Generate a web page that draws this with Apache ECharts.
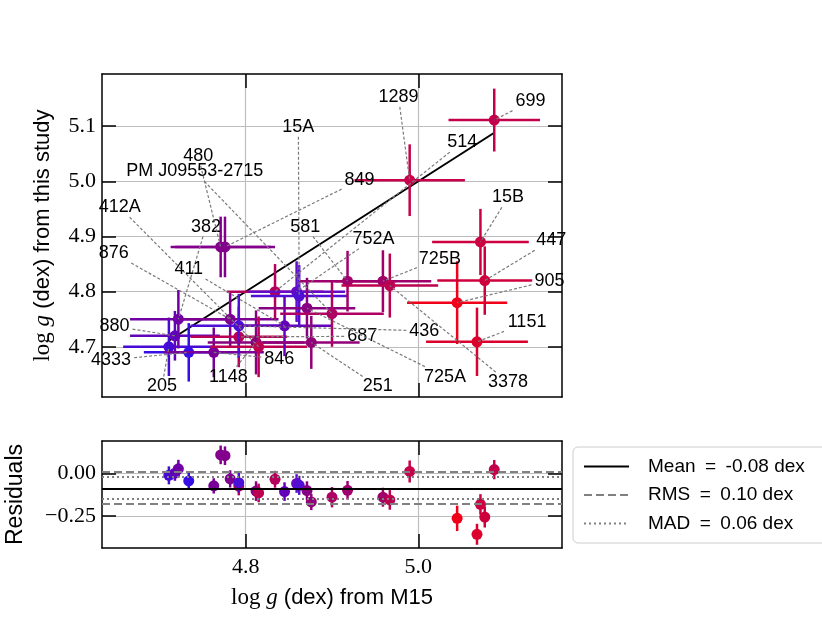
<!DOCTYPE html>
<html>
<head>
<meta charset="utf-8">
<script src="https://cdn.jsdelivr.net/npm/echarts@6/dist/echarts.min.js"></script>
<style>
  html, body { margin: 0; background: #fff; }
  #chart { width: 822px; height: 617px; }
</style>
</head>
<body>
<div id="chart"></div>
<script>
// stars, in the order they are plotted
const starNames = ['205', '880', '382', '4333', '846', '480', '849', '876', '687', '436',
  '1148', '412A', '514', '411', '752A', '15A', '725A', '251', 'PM J09553-2715', '581',
  '725B', '3378', '1289', '905', '1151', '15B', '447', '699'];
const loggM15 = [4.711, 4.718, 4.722, 4.734, 4.763, 4.771, 4.776, 4.782, 4.792, 4.792,
  4.812, 4.815, 4.834, 4.845, 4.859, 4.862, 4.871, 4.876, 4.900, 4.918,
  4.959, 4.967, 4.990, 5.045, 5.068, 5.072, 5.077, 5.088];
const loggThis = [4.700, 4.720, 4.750, 4.690, 4.690, 4.881, 4.881, 4.750, 4.718, 4.738,
  4.708, 4.700, 4.800, 4.738, 4.800, 4.792, 4.770, 4.708, 4.760, 4.819,
  4.819, 4.811, 5.002, 4.780, 4.709, 4.890, 4.820, 5.111];
const errM15 = [0.053, 0.052, 0.056, 0.052, 0.058, 0.058, 0.058, 0.056, 0.056, 0.056,
  0.056, 0.056, 0.056, 0.056, 0.056, 0.056, 0.056, 0.056, 0.060, 0.056,
  0.056, 0.056, 0.064, 0.058, 0.059, 0.056, 0.055, 0.053];
const errThis = [0.053, 0.045, 0.053, 0.053, 0.045, 0.055, 0.055, 0.051, 0.055, 0.058,
  0.058, 0.055, 0.050, 0.055, 0.055, 0.056, 0.055, 0.048, 0.060, 0.055,
  0.056, 0.058, 0.065, 0.075, 0.062, 0.060, 0.062, 0.057];
const starColors = ['rgb(70,10,215)', 'rgb(95,5,185)', 'rgb(110,0,165)', 'rgb(55,15,230)',
  'rgb(120,0,150)', 'rgb(130,0,140)', 'rgb(130,0,140)', 'rgb(125,0,145)', 'rgb(185,0,85)',
  'rgb(75,15,215)', 'rgb(135,0,125)', 'rgb(190,0,80)', 'rgb(180,0,90)', 'rgb(100,0,185)',
  'rgb(100,10,200)', 'rgb(80,15,210)', 'rgb(135,0,130)', 'rgb(145,0,120)', 'rgb(175,0,100)',
  'rgb(160,0,110)', 'rgb(160,0,105)', 'rgb(190,0,80)', 'rgb(200,0,75)', 'rgb(240,0,25)',
  'rgb(220,0,45)', 'rgb(205,0,65)', 'rgb(205,0,60)', 'rgb(195,0,75)'];
// where each star's name is written, in data units
const labelX = [4.703, 4.648, 4.754, 4.644, 4.839, 4.745, 4.932, 4.647, 4.935, 5.007,
  4.780, 4.654, 5.051, 4.734, 4.948, 4.861, 5.031, 4.953, 4.741, 4.869,
  5.025, 5.104, 4.977, 5.152, 5.126, 5.104, 5.154, 5.130];
const labelY = [4.628, 4.737, 4.918, 4.676, 4.678, 5.046, 5.002, 4.870, 4.719, 4.729,
  4.646, 4.953, 5.071, 4.841, 4.896, 5.099, 4.646, 4.628, 5.018, 4.918,
  4.860, 4.636, 5.153, 4.820, 4.744, 4.971, 4.893, 5.145];
// residual statistics (legend)
const meanRes = -0.085;
const rmsRes = 0.097;
const madRes = 0.062;
const statNames = ['Mean\u2002=\u2002-0.08 dex', 'RMS\u2002=\u20020.10 dex', 'MAD\u2002=\u20020.06 dex'];
const xTicks = [4.8, 5.0];
const yTicksTop = [4.7, 4.8, 4.9, 5.0, 5.1];
const yTicksRes = [-0.25, 0];

const X_MIN = 4.6335, X_MAX = 5.1665;
const Y_MIN = 4.609, Y_MAX = 5.1945;
const R_MIN = -0.44, R_MAX = 0.192;

const residuals = loggThis.map((v, i) => v - loggM15[i]);
const topData = loggM15.map((x, i) => [x, loggThis[i], errM15[i], errThis[i]]);
const resData = loggM15.map((x, i) => [x, residuals[i], errThis[i]]);
const labelData = starNames.map((n, i) => [labelX[i], labelY[i], loggM15[i], loggThis[i]]);
const xLo = Math.min(...loggM15), xHi = Math.max(...loggM15);

const SERIF = '"Liberation Serif", "DejaVu Serif", serif';
const SANS = '"Liberation Sans", "DejaVu Sans", sans-serif';

function renderCross(params, api) {
  const i = params.dataIndex;
  const x = api.value(0), y = api.value(1), ex = api.value(2), ey = api.value(3);
  const c = api.coord([x, y]);
  const l = api.coord([x - ex, y]), r = api.coord([x + ex, y]);
  const t = api.coord([x, y + ey]), b = api.coord([x, y - ey]);
  const color = starColors[i];
  return {
    type: 'group',
    children: [
      { type: 'line', shape: { x1: l[0], y1: c[1], x2: r[0], y2: c[1] }, style: { stroke: color, lineWidth: 2.5 } },
      { type: 'line', shape: { x1: c[0], y1: t[1], x2: c[0], y2: b[1] }, style: { stroke: color, lineWidth: 2.5 } },
      { type: 'circle', shape: { cx: c[0], cy: c[1], r: 5.5 }, style: { fill: color } }
    ]
  };
}

function renderResidual(params, api) {
  const i = params.dataIndex;
  const x = api.value(0), y = api.value(1), ey = api.value(2);
  const c = api.coord([x, y]);
  const t = api.coord([x, y + ey]), b = api.coord([x, y - ey]);
  const color = starColors[i];
  return {
    type: 'group',
    children: [
      { type: 'line', shape: { x1: c[0], y1: t[1], x2: c[0], y2: b[1] }, style: { stroke: color, lineWidth: 2.5 } },
      { type: 'circle', shape: { cx: c[0], cy: c[1], r: 5.5 }, style: { fill: color } }
    ]
  };
}

function renderLabel(params, api) {
  const i = params.dataIndex;
  const p = api.coord([api.value(0), api.value(1)]);
  const q = api.coord([api.value(2), api.value(3)]);
  const name = starNames[i];
  const hw = name.length * 5 + 3, hh = 10;
  const dx = q[0] - p[0], dy = q[1] - p[1];
  const s = Math.min(hw / Math.max(Math.abs(dx), 1e-6), hh / Math.max(Math.abs(dy), 1e-6));
  const children = [];
  if (s < 1) {
    children.push({
      type: 'line',
      shape: { x1: p[0] + dx * s, y1: p[1] + dy * s, x2: q[0], y2: q[1] },
      style: { stroke: '#7a7a7a', lineWidth: 1.2, lineDash: [3, 2] }
    });
  }
  children.push({
    type: 'text', x: p[0], y: p[1],
    style: { text: name, fill: '#000', fontSize: 18, fontFamily: SANS, align: 'center', verticalAlign: 'middle' }
  });
  return { type: 'group', children };
}

const tickStyle = { show: true, inside: true, length: 14, lineStyle: { color: '#000', width: 1.5 } };
const lineStyle = { show: true, onZero: false, lineStyle: { color: '#000', width: 1.5 } };
const gridLine = { show: true, lineStyle: { color: '#bdbdbd', width: 1.2 } };

function xAxisFor(grid, pos, labels, extra) {
  return Object.assign({
    type: 'value', gridIndex: grid, position: pos, min: X_MIN, max: X_MAX,
    axisLine: lineStyle,
    axisTick: Object.assign({ customValues: xTicks }, tickStyle),
    axisLabel: labels ? {
      customValues: xTicks, formatter: v => v.toFixed(1), margin: 8,
      color: '#000', fontFamily: SERIF, fontSize: 22
    } : { show: false },
    splitLine: pos === 'bottom' ? Object.assign({ customValues: xTicks }, gridLine) : { show: false }
  }, extra || {});
}

function yAxisFor(grid, pos, min, max, ticks, fmt, extra) {
  return Object.assign({
    type: 'value', gridIndex: grid, position: pos, min: min, max: max,
    axisLine: lineStyle,
    axisTick: Object.assign({ customValues: ticks }, tickStyle),
    axisLabel: fmt ? {
      customValues: ticks, formatter: fmt, margin: 6,
      color: '#000', fontFamily: SERIF, fontSize: 22
    } : { show: false },
    splitLine: pos === 'left' ? Object.assign({ customValues: ticks }, gridLine) : { show: false }
  }, extra || {});
}

const nameRich = {
  a: { fontFamily: SERIF, fontSize: 23, color: '#000' },
  b: { fontFamily: SERIF, fontStyle: 'italic', fontSize: 23, color: '#000' },
  c: { fontFamily: SANS, fontSize: 22, color: '#000' }
};

// reference lines of the residual panel; the legend shows only their line style
function statSeries(name, color, type, values) {
  return {
    name: name, type: 'line', xAxisIndex: 2, yAxisIndex: 2, z: 2, symbol: 'none', data: [],
    itemStyle: { color: 'rgba(0,0,0,0)', opacity: 0 },
    lineStyle: { color: color, width: 2, type: type },
    markLine: {
      silent: true, symbol: ['none', 'none'], label: { show: false },
      lineStyle: { color: color, width: 2, type: type },
      data: values.map(v => ({ yAxis: v }))
    }
  };
}

const chart = echarts.init(document.getElementById('chart'), null, { renderer: 'canvas' });
chart.setOption({
  animation: false,
  backgroundColor: '#fff',
  grid: [
    { left: 102, top: 74, width: 460, height: 323, outerBoundsMode: 'none', containLabel: false },
    { left: 102, top: 441, width: 460, height: 107, outerBoundsMode: 'none', containLabel: false }
  ],
  legend: {
    orient: 'vertical', left: 573, top: 447,
    padding: [10, 40, 10, 10], itemWidth: 45, itemHeight: 18, itemGap: 9.5,
    backgroundColor: '#fff', borderColor: '#cccccc', borderWidth: 1, borderRadius: 5,
    selectedMode: false,
    itemStyle: { opacity: 0 },
    textStyle: { fontFamily: SANS, fontSize: 19, color: '#000', padding: [0, 0, 0, 14] },
    data: statNames
  },
  xAxis: [
    xAxisFor(0, 'bottom', false),
    xAxisFor(0, 'top', false),
    xAxisFor(1, 'bottom', true, {
      name: '{a|log }{b|g}{c| (dex) from M15}', nameLocation: 'middle', nameGap: 38,
      nameTextStyle: { rich: nameRich }
    }),
    xAxisFor(1, 'top', false)
  ],
  yAxis: [
    yAxisFor(0, 'left', Y_MIN, Y_MAX, yTicksTop, v => v.toFixed(1), {
      name: '{a|log }{b|g}{c| (dex) from this study}', nameLocation: 'middle', nameGap: 48,
      nameRotate: 90, nameTextStyle: { rich: nameRich }
    }),
    yAxisFor(0, 'right', Y_MIN, Y_MAX, yTicksTop, null),
    yAxisFor(1, 'left', R_MIN, R_MAX, yTicksRes, v => (v < 0 ? '\u2212' : '') + Math.abs(v).toFixed(2), {
      name: 'Residuals', nameLocation: 'middle', nameGap: 75, nameRotate: 90,
      nameTextStyle: { fontFamily: SANS, fontSize: 23, color: '#000' }
    }),
    yAxisFor(1, 'right', R_MIN, R_MAX, yTicksRes, null)
  ],
  series: [
    {
      type: 'line', xAxisIndex: 0, yAxisIndex: 0, z: 2, symbol: 'none', silent: true,
      data: [[xLo, xLo], [xHi, xHi]],
      lineStyle: { color: '#000', width: 2 }
    },
    {
      type: 'custom', xAxisIndex: 0, yAxisIndex: 0, z: 3, silent: true,
      data: topData, renderItem: renderCross
    },
    {
      type: 'custom', xAxisIndex: 0, yAxisIndex: 0, z: 4, silent: true,
      data: labelData, renderItem: renderLabel
    },
    statSeries(statNames[0], '#000', 'solid', [meanRes]),
    statSeries(statNames[1], '#808080', [8, 4], [meanRes + rmsRes, meanRes - rmsRes]),
    statSeries(statNames[2], '#808080', [2, 3], [meanRes + madRes, meanRes - madRes]),
    {
      type: 'custom', xAxisIndex: 2, yAxisIndex: 2, z: 3, silent: true,
      data: resData, renderItem: renderResidual
    }
  ]
});
</script>
</body>
</html>
